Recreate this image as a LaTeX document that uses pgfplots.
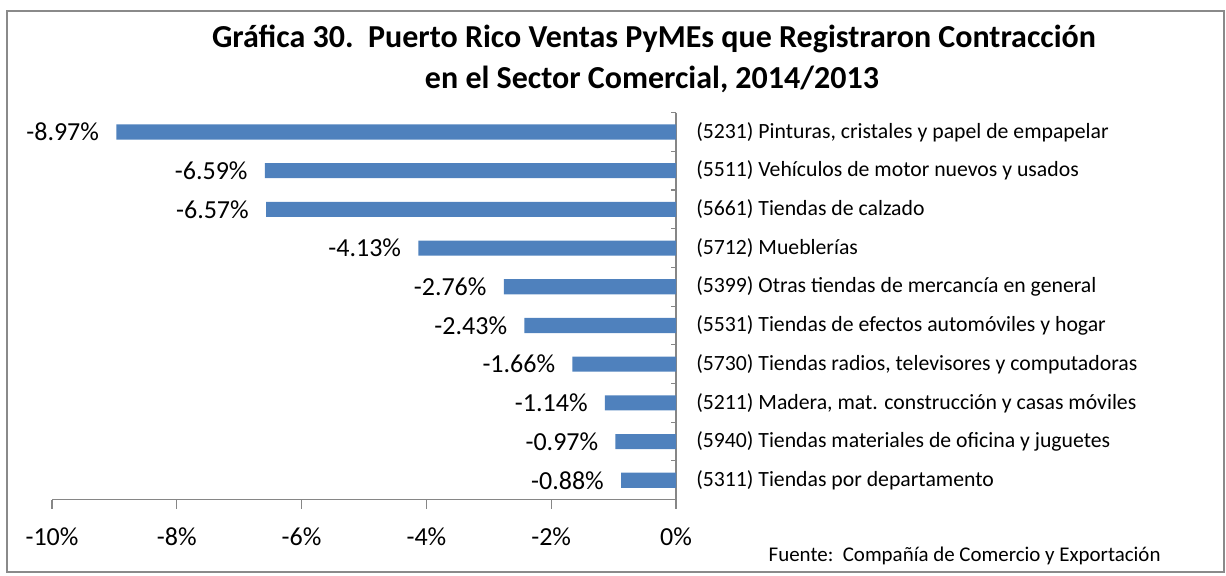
\documentclass[border=0pt]{standalone}
\usepackage{pgfplots}
\pgfplotsset{compat=1.18}
\usepackage{fontspec}
\setmainfont{Carlito}
\definecolor{barblue}{HTML}{4F81BD}
\definecolor{axgray}{HTML}{868686}
\definecolor{framegray}{HTML}{8A8A8A}
\begin{document}
\begin{tikzpicture}
\path[use as bounding box] (0,0) rectangle (919.5pt,-431.25pt);
\draw[framegray, line width=1.1pt] (5.25pt,-8.25pt) rectangle (918pt,-429pt);
\node[anchor=base, font=\bfseries\fontsize{24}{29}\selectfont] at (490.5pt,-35.5pt) {Gráfica 30.\ \ Puerto Rico Ventas PyMEs que Registraron Contracción};
\node[anchor=base, font=\bfseries\fontsize{24}{29}\selectfont] at (489pt,-66pt) {en el Sector Comercial, 2014/2013};
\node[anchor=base west, font=\fontsize{15.7}{19}\selectfont] at (573pt,-420.75pt) {Fuente:\ \ Compañía de Comercio y Exportación};
\begin{axis}[
  at={(507pt,-374.7pt)}, anchor=south east,
  scale only axis, width=468pt, height=290.25pt,
  xbar, bar width=0.39,
  xmin=-10, xmax=0, ymin=-0.5, ymax=9.5, y dir=reverse,
  axis x line*=bottom, axis y line*=right,
  axis line style={axgray, line width=0.8pt},
  every tick/.style={axgray, line width=0.8pt},
  tick align=inside, major tick length=3.75pt,
  xtick=\empty,
  extra x ticks={-10,-8,-6,-4,-2,0},
  extra x tick labels={-10\%,-8\%,-6\%,-4\%,-2\%,0\%},
  extra x tick style={tick align=outside, major tick length=7pt},
  ytick={-0.5,0.5,...,9.5}, yticklabels={},
  extra y ticks={0,1,...,9},
  extra y tick labels={
    (5231) Pinturas{,} cristales y papel de empapelar,
    (5511) Vehículos de motor nuevos y usados,
    (5661) Tiendas de calzado,
    (5712) Mueblerías,
    (5399) Otras tiendas de mercancía en general,
    (5531) Tiendas de efectos automóviles y hogar,
    (5730) Tiendas radios{,} televisores y computadoras,
    (5211) Madera{,} mat. construcción y casas móviles,
    (5940) Tiendas materiales de oficina y juguetes,
    (5311) Tiendas por departamento},
  extra y tick style={major tick length=0pt},
  xticklabel style={font=\fontsize{19.5}{23}\selectfont, inner sep=0pt, yshift=-14pt},
  yticklabel style={font=\fontsize{16.3}{19}\selectfont, anchor=west, inner sep=0pt, xshift=15pt},
  nodes near coords, point meta=explicit symbolic,
  every node near coord/.append style={anchor=east, inner sep=0pt, xshift=-12.75pt, font=\fontsize{19.5}{23}\selectfont},
  clip=false,
]
\addplot[fill=barblue, draw=none] coordinates {
(-8.97,0) [-8.97\%]
(-6.59,1) [-6.59\%]
(-6.57,2) [-6.57\%]
(-4.13,3) [-4.13\%]
(-2.76,4) [-2.76\%]
(-2.43,5) [-2.43\%]
(-1.66,6) [-1.66\%]
(-1.14,7) [-1.14\%]
(-0.97,8) [-0.97\%]
(-0.88,9) [-0.88\%]
};
\end{axis}
\end{tikzpicture}
\end{document}
